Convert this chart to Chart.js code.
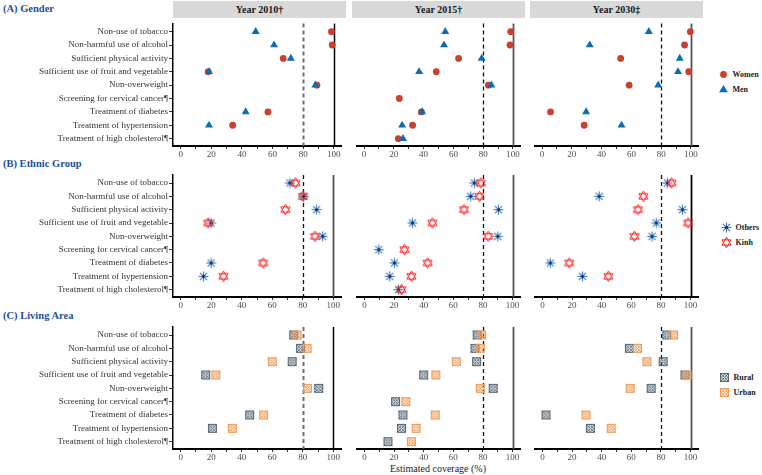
<!DOCTYPE html>
<html>
<head>
<meta charset="utf-8">
<script src="https://cdn.jsdelivr.net/npm/chart.js@4.4.1/dist/chart.umd.min.js"></script>
<style>
  body { margin: 0; background: #fff; font-family: "Liberation Serif", "DejaVu Serif", "Times New Roman", "Noto Serif", serif; }
  #wrap { position: relative; width: 762px; height: 475px; overflow: hidden; }
  #wrap canvas.chart { position: absolute; }
  .title { position: absolute; left: 3px; font-weight: bold; font-size: 10.5px; color: #1f4e9b; line-height: 12px; }
  .strip { position: absolute; top: 1px; height: 17px; background: #d9d9d9; text-align: center;
           font-weight: bold; font-size: 10px; line-height: 17px; color: #1a1a1a; }
  .leg { position: absolute; font-weight: bold; font-size: 8px; color: #222; display: flex; align-items: center; gap: 3px; }
  .xtitle { position: absolute; top: 463px; left: 338px; width: 200px; text-align: center; font-size: 10px; line-height: 12px; color: #222; }
</style>
</head>
<body>
<div id="wrap">
  <div class="title" style="top:3px">(A) Gender</div>
  <div class="title" style="top:158px">(B) Ethnic Group</div>
  <div class="title" style="top:310px">(C) Living Area</div>
  <div class="xtitle">Estimated coverage (%)</div>
</div>
<script>
// categories and facet labels
const categories = [
  'Non-use of tobacco',
  'Non-harmful use of alcohol',
  'Sufficient physical activity',
  'Sufficient use of fruit and vegetable',
  'Non-overweight',
  'Screening for cervical cancer¶',
  'Treatment of diabetes',
  'Treatment of hypertension',
  'Treatment of high cholesterol¶'
];
const years = ['Year 2010†', 'Year 2015†', 'Year 2030‡'];
const xTicks = [0, 10, 20, 30, 40, 50, 60, 70, 80, 90, 100];
const xTickLabels = [0, 20, 40, 60, 80, 100];
const targetLine = 80;
const fullLine = 100;

// (A) Gender
const women2010 = [98.5, 99, 67, 18, 89, null, 57, 34, null];
const men2010   = [49, 61, 72, 18.5, 88, null, 42.5, 18.5, null];
const women2015 = [98.5, 98, 63.5, 48.5, 83.5, 23.7, 38.5, 32.6, 23];
const men2015   = [54.5, 53.7, 79, 37, 85.5, null, 39, 25.6, 26.2];
const women2030 = [99.6, 95.7, 52.8, 98.5, 58.5, null, 5.7, 28.3, null];
const men2030   = [71.7, 32, 92.5, 91.3, 78, null, 29.6, 53.4, null];

// (B) Ethnic group
const others2010 = [71.5, 80.5, 89, 20, 93, null, 20, 15, null];
const kinh2010   = [75.2, 80, 68.6, 18, 88, null, 54, 28, null];
const others2015 = [74.2, 71.7, 90.5, 32.4, 90, 9.7, 20.3, 17.1, 23];
const kinh2015   = [78.6, 77.6, 67.2, 45.9, 83.5, 27, 42.7, 31.7, 25];
const others2030 = [84.3, 38.3, 94.5, 76.8, 74, null, 5.3, 27, null];
const kinh2030   = [87.2, 68.1, 64.5, 98.3, 62.1, null, 18.1, 44.5, null];

// (C) Living area
const rural2010 = [74, 78.5, 73, 16.4, 90.4, null, 45.2, 20.8, null];
const urban2010 = [76.2, 82.8, 60, 23, 83, null, 54.3, 33.8, null];
const rural2015 = [76.1, 74.6, 75.7, 40, 86.9, 21, 26, 25, 15.9];
const urban2015 = [79.1, 78.2, 62, 48.2, 78.2, 27.9, 47.8, 34.9, 31.7];
const rural2030 = [83.9, 58.7, 81.5, 96.2, 73.4, null, 2.4, 32.4, null];
const urban2030 = [88.5, 64.1, 70.5, 97.6, 59.2, null, 29.4, 46.4, null];

Chart.defaults.font.family = "'Liberation Serif', 'DejaVu Serif', 'Times New Roman', 'Noto Serif', serif";

// custom marker images
function makeIcon(kind, color) {
  const c = document.createElement('canvas');
  c.width = 13; c.height = 13;
  const g = c.getContext('2d');
  const m = 6.5;
  g.strokeStyle = color;
  if (kind === 'asterisk') {
    g.lineWidth = 1.1;
    for (let k = 0; k < 4; k++) {
      const a = k * Math.PI / 4;
      g.beginPath();
      g.moveTo(m - 5 * Math.cos(a), m - 5 * Math.sin(a));
      g.lineTo(m + 5 * Math.cos(a), m + 5 * Math.sin(a));
      g.stroke();
    }
    g.fillStyle = '#15305e';
    g.beginPath(); g.arc(m, m, 1.5, 0, Math.PI * 2); g.fill();
  } else if (kind === 'david') {
    g.lineWidth = 1;
    [-90, 90].forEach(start => {
      g.beginPath();
      for (let k = 0; k < 3; k++) {
        const a = (start + k * 120) * Math.PI / 180;
        const px = m + 5.3 * Math.cos(a), py = m + 5.3 * Math.sin(a);
        if (k === 0) g.moveTo(px, py); else g.lineTo(px, py);
      }
      g.closePath(); g.stroke();
    });
  } else if (kind === 'boxcross') {
    g.lineWidth = 1;
    g.fillStyle = color; g.globalAlpha = 0.08;
    g.fillRect(2.5, 2.5, 8, 8);
    g.globalAlpha = 1;
    g.strokeRect(2.5, 2.5, 8, 8);
    g.beginPath();
    g.moveTo(2.5, 2.5); g.lineTo(10.5, 10.5);
    g.moveTo(10.5, 2.5); g.lineTo(2.5, 10.5);
    g.stroke();
    g.beginPath(); g.arc(m, m, 2.8, 0, Math.PI * 2); g.stroke();
  } else if (kind === 'circle') {
    g.fillStyle = color;
    g.beginPath(); g.arc(m, m, 3.4, 0, Math.PI * 2); g.fill();
  } else if (kind === 'triangle') {
    g.fillStyle = color;
    g.beginPath(); g.moveTo(m, m - 4.5); g.lineTo(m + 4.4, m + 2.8); g.lineTo(m - 4.4, m + 2.8);
    g.closePath(); g.fill();
  }
  return c;
}

const colWomen = '#c9402d', colMen = '#0b6db3';
const colOthers = '#3b78bd', colKinh = '#ff1f1f';
const colRural = '#566874', colUrban = '#ef9a57';

const groups = [
  { names: ['Women', 'Men'], data: [[women2010, men2010], [women2015, men2015], [women2030, men2030]],
    icons: ['circle', 'triangle'],
    styles: [{ pointStyle: 'circle', radius: 3.4, color: colWomen },
             { pointStyle: 'triangle', radius: 4.6, color: colMen }] },
  { names: ['Others', 'Kinh'], data: [[others2010, kinh2010], [others2015, kinh2015], [others2030, kinh2030]],
    icons: ['asterisk', 'david'],
    styles: [{ pointStyle: makeIcon('asterisk', colOthers), radius: 5, color: colOthers },
             { pointStyle: makeIcon('david', colKinh), radius: 5, color: colKinh }] },
  { names: ['Rural', 'Urban'], data: [[rural2010, urban2010], [rural2015, urban2015], [rural2030, urban2030]],
    icons: ['boxcross', 'boxcross'],
    styles: [{ pointStyle: makeIcon('boxcross', colRural), radius: 5, color: colRural },
             { pointStyle: makeIcon('boxcross', colUrban), radius: 5, color: colUrban }] }
];

// panel geometry
const rowTops = [18.5, 169.5, 321.5];
const plotH = 127;
const colLefts = [173, 352, 530];
const plotW = 173;
const axisH = 14; // tick length 3 + label line height 11
const legendPos = [[74, 723], [227, 726], [377, 724]];

const refLines = {
  id: 'refLines',
  beforeDatasetsDraw(chart, args, o) {
    const { ctx, chartArea: { top, bottom }, scales: { x } } = chart;
    ctx.save();
    const xd = Math.round(x.getPixelForValue(targetLine)) + 0.5;
    ctx.strokeStyle = o.dashColor; ctx.lineWidth = o.dashWidth; ctx.setLineDash([4, 3]);
    ctx.beginPath(); ctx.moveTo(xd, top); ctx.lineTo(xd, bottom); ctx.stroke();
    const xs = Math.round(x.getPixelForValue(fullLine)) + 0.5;
    ctx.strokeStyle = o.solidColor; ctx.lineWidth = o.solidWidth; ctx.setLineDash([]);
    ctx.beginPath(); ctx.moveTo(xs, top); ctx.lineTo(xs, bottom); ctx.stroke();
    ctx.restore();
  }
};

const wrap = document.getElementById('wrap');

years.forEach((y, c) => {
  const s = document.createElement('div');
  s.className = 'strip';
  s.style.left = (colLefts[c]) + 'px';
  s.style.width = plotW + 'px';
  s.textContent = y;
  wrap.appendChild(s);
});

groups.forEach((grp, r) => {
  years.forEach((yr, c) => {
    const cv = document.createElement('canvas');
    cv.className = 'chart';
    const left = c === 0 ? 0 : colLefts[c];
    const w = c === 0 ? colLefts[0] + plotW : plotW;
    cv.width = w; cv.height = plotH + axisH;
    cv.style.left = left + 'px';
    cv.style.top = rowTops[r] + 'px';
    wrap.appendChild(cv);

    const greyDash = (c === 0 && r !== 1);
    const lineOpts = greyDash
      ? { dashColor: '#6e6e6e', dashWidth: 2, solidColor: '#000', solidWidth: 1.5 }
      : { dashColor: '#111', dashWidth: 1.3, solidColor: (r === 1 && c === 2) ? '#000' : '#555', solidWidth: 1.8 };

    const datasets = grp.data[c].map((vals, k) => ({
      label: grp.names[k],
      data: vals.map((v, i) => ({ x: v, y: i })).filter(p => p.x !== null),
      pointStyle: grp.styles[k].pointStyle,
      pointRadius: grp.styles[k].radius,
      backgroundColor: grp.styles[k].color,
      borderColor: grp.styles[k].color,
      borderWidth: 0,
      order: 2 - k
    }));

    new Chart(cv.getContext('2d'), {
      type: 'scatter',
      data: { datasets },
      options: {
        responsive: false,
        animation: false,
        events: [],
        layout: { padding: 0 },
        plugins: { legend: { display: false }, tooltip: { enabled: false }, refLines: lineOpts },
        scales: {
          x: {
            type: 'linear', position: 'bottom', min: -5, max: 105,
            afterBuildTicks: sc => { sc.ticks = xTicks.map(v => ({ value: v })); },
            ticks: {
              autoSkip: false, maxRotation: 0,
              padding: 0, color: '#4d4d4d', font: { size: 9, lineHeight: '11px' },
              callback: v => xTickLabels.includes(v) ? String(v) : ''
            },
            grid: { drawOnChartArea: false, drawTicks: true, tickLength: 3, color: '#333' },
            border: { display: true, color: '#000', width: 2 }
          },
          y: {
            type: 'linear', min: -0.6, max: 8.55, reverse: true,
            display: c === 0,
            afterBuildTicks: sc => { sc.ticks = categories.map((t, i) => ({ value: i })); },
            ticks: {
              autoSkip: false, padding: 1,
              color: '#333', font: { size: 9 },
              callback: v => categories[v] !== undefined ? categories[v] : ''
            },
            grid: { drawOnChartArea: false, drawTicks: true, tickLength: 4, color: '#333' },
            border: { display: true, color: '#000', width: 1.5 },
            afterFit: sc => { if (c === 0) { sc.width = colLefts[0]; sc.paddingTop = 0; sc.paddingBottom = 0; } }
          }
        }
      },
      plugins: [refLines]
    });
  });

  // legend
  grp.names.forEach((n, k) => {
    const d = document.createElement('div');
    d.className = 'leg';
    d.style.left = (legendPos[r][1] - 6.5) + 'px';
    d.style.top = (legendPos[r][0] + k * 15.5 - 6.5) + 'px';
    d.style.height = '13px';
    d.appendChild(makeIcon(grp.icons[k], grp.styles[k].color));
    const t = document.createElement('span');
    t.textContent = n;
    d.appendChild(t);
    wrap.appendChild(d);
  });
});
</script>
</body>
</html>
